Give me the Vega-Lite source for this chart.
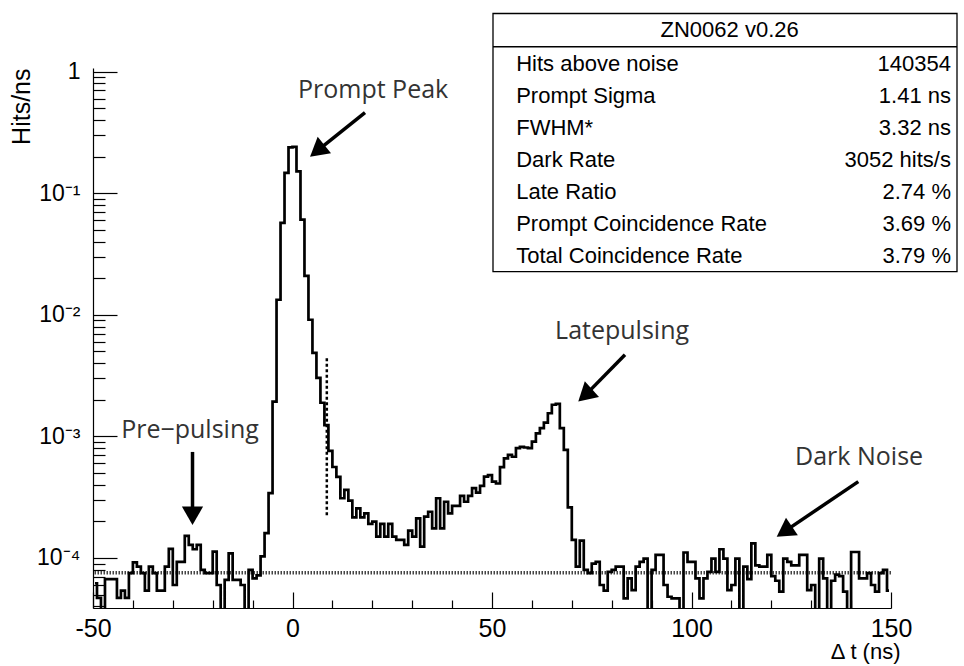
{
  "$schema": "https://vega.github.io/schema/vega-lite/v6.json",
  "width": 798,
  "height": 540,
  "autosize": "none",
  "padding": {"left": 93, "top": 68, "right": 73, "bottom": 58},
  "background": "white",
  "data": {"values": [{}]},
  "config": {
    "view": {"stroke": null},
    "axis": {
      "grid": false,
      "domainColor": "black",
      "domainWidth": 1.2,
      "tickColor": "black",
      "tickWidth": 1.2,
      "labelColor": "black",
      "labelFont": "Liberation Sans",
      "labelFontSize": 22,
      "titleFont": "Liberation Sans",
      "titleFontSize": 22,
      "titleFontWeight": "normal",
      "titleColor": "black",
      "labelFlush": false,
      "labelOverlap": false,
      "labelBound": false
    }
  },
  "datasets": {
    "hist": [
      {"t": -49.5, "v": 6.2e-5}, {"t": -48.5, "v": 4.7e-5}, {"t": -47.5, "v": 2e-5}, {"t": -46.5, "v": 6.7e-5},
      {"t": -45.5, "v": 6.7e-5}, {"t": -44.5, "v": 6.7e-5}, {"t": -43.5, "v": 4.7e-5}, {"t": -42.5, "v": 5.4e-5},
      {"t": -41.5, "v": 4.7e-5}, {"t": -40.5, "v": 7.5e-5}, {"t": -39.5, "v": 9.2e-5}, {"t": -38.5, "v": 8.5e-5},
      {"t": -37.5, "v": 7.5e-5}, {"t": -36.5, "v": 5.4e-5}, {"t": -35.5, "v": 8.5e-5}, {"t": -34.5, "v": 7.5e-5},
      {"t": -33.5, "v": 5.4e-5}, {"t": -32.5, "v": 5.4e-5}, {"t": -31.5, "v": 8.5e-5}, {"t": -30.5, "v": 1.19e-4},
      {"t": -29.5, "v": 6.0e-5}, {"t": -28.5, "v": 9.3e-5}, {"t": -27.5, "v": 9.3e-5}, {"t": -26.5, "v": 1.52e-4},
      {"t": -25.5, "v": 1.28e-4}, {"t": -24.5, "v": 1.18e-4}, {"t": -23.5, "v": 1.28e-4}, {"t": -22.5, "v": 8.0e-5},
      {"t": -21.5, "v": 7.5e-5}, {"t": -20.5, "v": 7.5e-5}, {"t": -19.5, "v": 1.13e-4}, {"t": -18.5, "v": 6.0e-5},
      {"t": -17.5, "v": 2e-5}, {"t": -16.5, "v": 6.6e-5}, {"t": -15.5, "v": 1.09e-4}, {"t": -14.5, "v": 6.6e-5},
      {"t": -13.5, "v": 6.6e-5}, {"t": -12.5, "v": 6.0e-5}, {"t": -11.5, "v": 2e-5}, {"t": -10.5, "v": 8.0e-5},
      {"t": -9.5, "v": 6.8e-5}, {"t": -8.5, "v": 7.2e-5}, {"t": -7.5, "v": 1.03e-4}, {"t": -6.5, "v": 1.6e-4},
      {"t": -5.5, "v": 3.41e-4}, {"t": -4.5, "v": 1.93e-3}, {"t": -3.5, "v": 0.0133}, {"t": -2.5, "v": 0.0569},
      {"t": -1.5, "v": 0.147}, {"t": -0.5, "v": 0.238}, {"t": 0.5, "v": 0.24}, {"t": 1.5, "v": 0.151},
      {"t": 2.5, "v": 0.0605}, {"t": 3.5, "v": 0.0209}, {"t": 4.5, "v": 9.1e-3}, {"t": 5.5, "v": 4.86e-3},
      {"t": 6.5, "v": 3.03e-3}, {"t": 7.5, "v": 1.89e-3}, {"t": 8.5, "v": 1.24e-3}, {"t": 9.5, "v": 7.6e-4},
      {"t": 10.5, "v": 5.6e-4}, {"t": 11.5, "v": 4.65e-4}, {"t": 12.5, "v": 3.1e-4}, {"t": 13.5, "v": 3.63e-4},
      {"t": 14.5, "v": 2.96e-4}, {"t": 15.5, "v": 2.16e-4}, {"t": 16.5, "v": 2.56e-4}, {"t": 17.5, "v": 2.16e-4},
      {"t": 18.5, "v": 2.33e-4}, {"t": 19.5, "v": 1.91e-4}, {"t": 20.5, "v": 1.99e-4}, {"t": 21.5, "v": 1.5e-4},
      {"t": 22.5, "v": 1.91e-4}, {"t": 23.5, "v": 1.5e-4}, {"t": 24.5, "v": 1.91e-4}, {"t": 25.5, "v": 1.5e-4},
      {"t": 26.5, "v": 1.41e-4}, {"t": 27.5, "v": 1.41e-4}, {"t": 28.5, "v": 1.28e-4}, {"t": 29.5, "v": 1.68e-4},
      {"t": 30.5, "v": 1.5e-4}, {"t": 31.5, "v": 2.12e-4}, {"t": 32.5, "v": 1.24e-4}, {"t": 33.5, "v": 2.19e-4},
      {"t": 34.5, "v": 2.4e-4}, {"t": 35.5, "v": 1.75e-4}, {"t": 36.5, "v": 3.1e-4}, {"t": 37.5, "v": 1.75e-4},
      {"t": 38.5, "v": 2.9e-4}, {"t": 39.5, "v": 2.33e-4}, {"t": 40.5, "v": 2.68e-4}, {"t": 41.5, "v": 2.68e-4},
      {"t": 42.5, "v": 3.24e-4}, {"t": 43.5, "v": 2.9e-4}, {"t": 44.5, "v": 3.24e-4}, {"t": 45.5, "v": 3.75e-4},
      {"t": 46.5, "v": 3.45e-4}, {"t": 47.5, "v": 3.92e-4}, {"t": 48.5, "v": 4.67e-4}, {"t": 49.5, "v": 4.8e-4},
      {"t": 50.5, "v": 4.25e-4}, {"t": 51.5, "v": 4.1e-4}, {"t": 52.5, "v": 5.58e-4}, {"t": 53.5, "v": 6.6e-4},
      {"t": 54.5, "v": 7.05e-4}, {"t": 55.5, "v": 6.8e-4}, {"t": 56.5, "v": 8.0e-4}, {"t": 57.5, "v": 8.2e-4},
      {"t": 58.5, "v": 8.1e-4}, {"t": 59.5, "v": 8.0e-4}, {"t": 60.5, "v": 9.05e-4}, {"t": 61.5, "v": 1.06e-3},
      {"t": 62.5, "v": 1.17e-3}, {"t": 63.5, "v": 1.3e-3}, {"t": 64.5, "v": 1.55e-3}, {"t": 65.5, "v": 1.82e-3},
      {"t": 66.5, "v": 1.85e-3}, {"t": 67.5, "v": 1.17e-3}, {"t": 68.5, "v": 7.75e-4}, {"t": 69.5, "v": 2.61e-4},
      {"t": 70.5, "v": 1.41e-4}, {"t": 71.5, "v": 8.5e-5}, {"t": 72.5, "v": 1.39e-4}, {"t": 73.5, "v": 8.0e-5},
      {"t": 74.5, "v": 7.5e-5}, {"t": 75.5, "v": 9.0e-5}, {"t": 76.5, "v": 9.3e-5}, {"t": 77.5, "v": 6.0e-5},
      {"t": 78.5, "v": 5.4e-5}, {"t": 79.5, "v": 7.7e-5}, {"t": 80.5, "v": 8.0e-5}, {"t": 81.5, "v": 8.5e-5},
      {"t": 82.5, "v": 8.5e-5}, {"t": 83.5, "v": 4.66e-5}, {"t": 84.5, "v": 6.8e-5}, {"t": 85.5, "v": 5.45e-5},
      {"t": 86.5, "v": 8.5e-5}, {"t": 87.5, "v": 9.3e-5}, {"t": 88.5, "v": 9.9e-5}, {"t": 89.5, "v": 2e-5},
      {"t": 90.5, "v": 8.0e-5}, {"t": 91.5, "v": 1.06e-4}, {"t": 92.5, "v": 1.06e-4}, {"t": 93.5, "v": 6.0e-5},
      {"t": 94.5, "v": 4.8e-5}, {"t": 95.5, "v": 4.66e-5}, {"t": 96.5, "v": 4.66e-5}, {"t": 97.5, "v": 2e-5},
      {"t": 98.5, "v": 1.11e-4}, {"t": 99.5, "v": 9.3e-5}, {"t": 100.5, "v": 9.3e-5}, {"t": 101.5, "v": 6.8e-5},
      {"t": 102.5, "v": 4.66e-5}, {"t": 103.5, "v": 6.8e-5}, {"t": 104.5, "v": 7.7e-5}, {"t": 105.5, "v": 9.9e-5},
      {"t": 106.5, "v": 7.7e-5}, {"t": 107.5, "v": 1.18e-4}, {"t": 108.5, "v": 9.9e-5}, {"t": 109.5, "v": 5.45e-5},
      {"t": 110.5, "v": 6.0e-5}, {"t": 111.5, "v": 9.9e-5}, {"t": 112.5, "v": 2e-5}, {"t": 113.5, "v": 8.5e-5},
      {"t": 114.5, "v": 6.7e-5}, {"t": 115.5, "v": 1.32e-4}, {"t": 116.5, "v": 8.7e-5}, {"t": 117.5, "v": 8.5e-5},
      {"t": 118.5, "v": 8.5e-5}, {"t": 119.5, "v": 1.06e-4}, {"t": 120.5, "v": 7.1e-5}, {"t": 121.5, "v": 6.5e-5},
      {"t": 122.5, "v": 5.3e-5}, {"t": 123.5, "v": 9.9e-5}, {"t": 124.5, "v": 9.3e-5}, {"t": 125.5, "v": 8.7e-5},
      {"t": 126.5, "v": 8.7e-5}, {"t": 127.5, "v": 1.06e-4}, {"t": 128.5, "v": 1.06e-4}, {"t": 129.5, "v": 5.45e-5},
      {"t": 130.5, "v": 6.0e-5}, {"t": 131.5, "v": 2e-5}, {"t": 132.5, "v": 9.9e-5}, {"t": 133.5, "v": 6.8e-5},
      {"t": 134.5, "v": 2e-5}, {"t": 135.5, "v": 6.5e-5}, {"t": 136.5, "v": 7.3e-5}, {"t": 137.5, "v": 7.1e-5},
      {"t": 138.5, "v": 5.3e-5}, {"t": 139.5, "v": 2e-5}, {"t": 140.5, "v": 1.12e-4}, {"t": 141.5, "v": 1.12e-4},
      {"t": 142.5, "v": 6.8e-5}, {"t": 143.5, "v": 6.8e-5}, {"t": 144.5, "v": 7.5e-5}, {"t": 145.5, "v": 6.0e-5},
      {"t": 146.5, "v": 5.3e-5}, {"t": 147.5, "v": 7.5e-5}, {"t": 148.5, "v": 8.0e-5}, {"t": 149.5, "v": 5.4e-5}
    ],
    "stats": [
      {"row": 1, "label": "Hits above noise", "value": "140354"},
      {"row": 2, "label": "Prompt Sigma", "value": "1.41 ns"},
      {"row": 3, "label": "FWHM*", "value": "3.32 ns"},
      {"row": 4, "label": "Dark Rate", "value": "3052 hits/s"},
      {"row": 5, "label": "Late Ratio", "value": "2.74 %"},
      {"row": 6, "label": "Prompt Coincidence Rate", "value": "3.69 %"},
      {"row": 7, "label": "Total Coincidence Rate", "value": "3.79 %"}
    ]
  },
  "layer": [
    {
      "layer": [
        {
          "mark": {"type": "rule", "stroke": "#444444", "strokeWidth": 3.5, "strokeDash": [1.5, 1.5]},
          "encoding": {"y": {"datum": 7.57e-5, "type": "quantitative", "axis": null}}
        },
        {
          "data": {"name": "hist"},
          "mark": {"type": "line", "interpolate": "step", "stroke": "black", "strokeWidth": 2.7, "clip": true, "strokeJoin": "miter"},
          "encoding": {
            "x": {
              "field": "t", "type": "quantitative",
              "scale": {"domain": [-50, 150], "nice": false, "zero": false},
              "axis": {
                "values": [-50, 0, 50, 100, 150],
                "tickSize": -16,
                "labelPadding": 24,
                "labelFontSize": 25,
                "labelExpr": "'' + datum.value",
                "title": "Δ t (ns)",
                "titleAnchor": "end",
                "titleAlign": "right",
                "titleBaseline": "alphabetic",
                "titleX": 807,
                "titleY": 50
              }
            },
            "y": {
              "field": "v", "type": "quantitative",
              "scale": {"type": "log", "domain": [3.88e-5, 1.07], "nice": false},
              "axis": {
                "values": [0.0001, 0.001, 0.01, 0.1, 1],
                "tickSize": -24,
                "labelPadding": 37,
                "labelFontSize": 23,
                "labelExpr": "datum.value >= 0.5 ? '1' : datum.value >= 0.05 ? '10⁻¹' : datum.value >= 0.005 ? '10⁻²' : datum.value >= 0.0005 ? '10⁻³' : '10⁻⁴'",
                "title": "Hits/ns",
                "titleFontSize": 25,
                "titleAnchor": "end",
                "titleAlign": "right",
                "titleBaseline": "bottom",
                "titleAngle": 270,
                "titleX": -59,
                "titleY": 0
              }
            }
          }
        },
        {
          "mark": {"type": "rule", "stroke": "black", "strokeWidth": 2.5, "strokeDash": [3, 2.5]},
          "encoding": {
            "x": {"datum": 8.6, "type": "quantitative",
              "axis": {"orient": "bottom", "values": [-40, -30, -20, -10, 10, 20, 30, 40, 60, 70, 80, 90, 110, 120, 130, 140], "tickSize": -8, "labels": false, "domain": false, "title": null}},
            "y": {"datum": 0.0044, "type": "quantitative",
              "axis": {"orient": "left", "values": [0.00004, 0.00005, 0.00006, 0.00007, 0.00008, 0.00009, 0.0002, 0.0003, 0.0004, 0.0005, 0.0006, 0.0007, 0.0008, 0.0009, 0.002, 0.003, 0.004, 0.005, 0.006, 0.007, 0.008, 0.009, 0.02, 0.03, 0.04, 0.05, 0.06, 0.07, 0.08, 0.09, 0.2, 0.3, 0.4, 0.5, 0.6, 0.7, 0.8, 0.9], "tickSize": -12, "labels": false, "domain": false, "title": null}},
            "y2": {"datum": 0.00022}
          }
        },
        {
          "mark": {"type": "text", "text": "Prompt Peak", "font": "Open Sans", "fontSize": 25, "color": "#333333", "align": "center", "baseline": "middle"},
          "encoding": {"x": {"datum": 20.2, "type": "quantitative", "axis": null}, "y": {"datum": 0.711, "type": "quantitative", "axis": null}}
        },
        {
          "mark": {"type": "text", "text": "Pre−pulsing", "font": "Open Sans", "fontSize": 25, "color": "#333333", "align": "center", "baseline": "middle"},
          "encoding": {"x": {"datum": -25.7, "type": "quantitative", "axis": null}, "y": {"datum": 0.00113, "type": "quantitative", "axis": null}}
        },
        {
          "mark": {"type": "text", "text": "Latepulsing", "font": "Open Sans", "fontSize": 25, "color": "#333333", "align": "center", "baseline": "middle"},
          "encoding": {"x": {"datum": 82.6, "type": "quantitative", "axis": null}, "y": {"datum": 0.00739, "type": "quantitative", "axis": null}}
        },
        {
          "mark": {"type": "text", "text": "Dark Noise", "font": "Open Sans", "fontSize": 25, "color": "#333333", "align": "center", "baseline": "middle"},
          "encoding": {"x": {"datum": 142.0, "type": "quantitative", "axis": null}, "y": {"datum": 0.000682, "type": "quantitative", "axis": null}}
        },
        {
          "mark": {"type": "rule", "stroke": "black", "strokeWidth": 3.5},
          "encoding": {"x": {"datum": 18.17, "type": "quantitative", "axis": null}, "y": {"datum": 0.4598, "type": "quantitative", "axis": null}, "x2": {"datum": 6.19}, "y2": {"datum": 0.2227}}
        },
        {
          "mark": {"type": "point", "shape": "triangle-up", "filled": true, "size": 450, "angle": 231, "color": "black", "opacity": 1},
          "encoding": {"x": {"datum": 6.19, "type": "quantitative", "axis": null}, "y": {"datum": 0.2227, "type": "quantitative", "axis": null}}
        },
        {
          "mark": {"type": "rule", "stroke": "black", "strokeWidth": 3.5},
          "encoding": {"x": {"datum": -25.06, "type": "quantitative", "axis": null}, "y": {"datum": 0.000745, "type": "quantitative", "axis": null}, "y2": {"datum": 0.0002225}}
        },
        {
          "mark": {"type": "point", "shape": "triangle-up", "filled": true, "size": 450, "angle": 180, "color": "black", "opacity": 1},
          "encoding": {"x": {"datum": -25.06, "type": "quantitative", "axis": null}, "y": {"datum": 0.0002225, "type": "quantitative", "axis": null}}
        },
        {
          "mark": {"type": "rule", "stroke": "black", "strokeWidth": 3.5},
          "encoding": {"x": {"datum": 83.33, "type": "quantitative", "axis": null}, "y": {"datum": 0.004686, "type": "quantitative", "axis": null}, "x2": {"datum": 73.33}, "y2": {"datum": 0.002175}}
        },
        {
          "mark": {"type": "point", "shape": "triangle-up", "filled": true, "size": 450, "angle": 228, "color": "black", "opacity": 1},
          "encoding": {"x": {"datum": 73.33, "type": "quantitative", "axis": null}, "y": {"datum": 0.002175, "type": "quantitative", "axis": null}}
        },
        {
          "mark": {"type": "rule", "stroke": "black", "strokeWidth": 3.5},
          "encoding": {"x": {"datum": 141.8, "type": "quantitative", "axis": null}, "y": {"datum": 0.0004246, "type": "quantitative", "axis": null}, "x2": {"datum": 123.26}, "y2": {"datum": 0.0001649}}
        },
        {
          "mark": {"type": "point", "shape": "triangle-up", "filled": true, "size": 450, "angle": 236, "color": "black", "opacity": 1},
          "encoding": {"x": {"datum": 123.26, "type": "quantitative", "axis": null}, "y": {"datum": 0.0001649, "type": "quantitative", "axis": null}}
        }
      ],
      "resolve": {"axis": {"x": "independent", "y": "independent"}}
    },
    {
      "layer": [
        {
          "mark": {"type": "rect", "fill": "white", "stroke": "black", "strokeWidth": 1.3},
          "encoding": {
            "x": {"datum": 0, "type": "quantitative", "scale": {"domain": [0, 100], "range": [400, 864]}, "axis": null},
            "x2": {"datum": 100},
            "y": {"datum": -0.58, "type": "quantitative", "scale": {"domain": [1, 7], "range": [-4, 187.7]}, "axis": null},
            "y2": {"datum": 7.5}
          }
        },
        {
          "mark": {"type": "rule", "stroke": "black", "strokeWidth": 1.3},
          "encoding": {
            "x": {"datum": 0, "type": "quantitative", "axis": null},
            "x2": {"datum": 100},
            "y": {"datum": 0.46, "type": "quantitative", "axis": null}
          }
        },
        {
          "mark": {"type": "text", "text": "ZN0062 v0.26", "font": "Liberation Sans", "fontSize": 22, "color": "black", "align": "center", "baseline": "middle"},
          "encoding": {
            "x": {"datum": 51, "type": "quantitative", "axis": null},
            "y": {"datum": -0.07, "type": "quantitative", "axis": null}
          }
        },
        {
          "data": {"name": "stats"},
          "mark": {"type": "text", "font": "Liberation Sans", "fontSize": 22, "color": "black", "align": "left", "baseline": "middle"},
          "encoding": {
            "x": {"datum": 5, "type": "quantitative", "axis": null},
            "y": {"field": "row", "type": "quantitative", "axis": null},
            "text": {"field": "label"}
          }
        },
        {
          "data": {"name": "stats"},
          "mark": {"type": "text", "font": "Liberation Sans", "fontSize": 22, "color": "black", "align": "right", "baseline": "middle"},
          "encoding": {
            "x": {"datum": 98.7, "type": "quantitative", "axis": null},
            "y": {"field": "row", "type": "quantitative", "axis": null},
            "text": {"field": "value"}
          }
        }
      ]
    }
  ],
  "resolve": {"scale": {"x": "independent", "y": "independent"}, "axis": {"x": "independent", "y": "independent"}}
}
